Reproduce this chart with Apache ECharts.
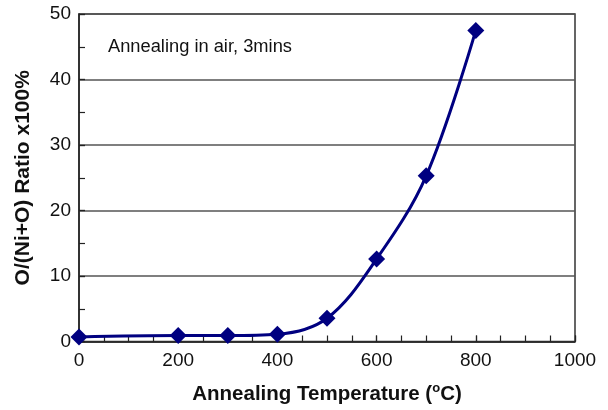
<!DOCTYPE html>
<html><head><meta charset="utf-8">
<script src="https://cdn.jsdelivr.net/npm/echarts@6/dist/echarts.min.js"></script>
<style>html,body{margin:0;padding:0;background:#fff}#c{width:608px;height:410px}</style>
</head><body><div id="c"></div>
<script>
const temperatures = [0, 200, 300, 400, 500, 600, 700, 800];
const ratios = [0.7, 0.9, 0.9, 1.1, 3.55, 12.6, 25.3, 47.5];
const xTicks = [0, 200, 400, 600, 800, 1000];
const yTicks = [0, 10, 20, 30, 40, 50];
const annotation = 'Annealing in air, 3mins';
const yTitle = 'O/(Ni+O) Ratio x100%';

const chart = echarts.init(document.getElementById('c'), null, {renderer: 'canvas'});
const font = 'Liberation Sans, Arial, sans-serif';
const tickStyle = {show: true, inside: true, length: 6, lineStyle: {color: '#222', width: 1.2}};
chart.setOption({
  animation: false,
  grid: {left: 79, right: 33, top: 14, bottom: 68, show: true, borderColor: '#333', borderWidth: 1.5},
  xAxis: [{
    type: 'value', min: 0, max: 1000, interval: 200,
    axisLine: {show: true, lineStyle: {color: '#222', width: 1.5}},
    axisTick: tickStyle,
    splitLine: {show: false},
    axisLabel: {color: '#111', fontSize: 19, fontFamily: font, margin: 10,
      formatter: v => xTicks.includes(v) ? String(v) : ''},
    name: '{t|Annealing Temperature (}{s|o}{t|C)}',
    nameLocation: 'middle', nameGap: 40,
    nameTextStyle: {rich: {
      t: {fontSize: 20.5, lineHeight: 26, fontWeight: 'bold', fontFamily: font, color: '#111'},
      s: {fontSize: 13, lineHeight: 11, fontWeight: 'bold', fontFamily: font, color: '#111', verticalAlign: 'top'}
    }}
  }, {
    type: 'value', min: 0, max: 1000, interval: 50, position: 'bottom',
    axisLine: {show: false}, axisTick: tickStyle,
    axisLabel: {show: false}, splitLine: {show: false}
  }],
  yAxis: [{
    type: 'value', min: 0, max: 50, interval: 10,
    axisLine: {show: true, lineStyle: {color: '#222', width: 1.5}},
    axisTick: tickStyle,
    splitLine: {show: true, lineStyle: {color: '#555', width: 1.5}},
    axisLabel: {color: '#111', fontSize: 19, fontFamily: font, margin: 8,
      formatter: v => yTicks.includes(v) ? String(v) : ''},
    name: yTitle, nameLocation: 'middle', nameGap: 45,
    nameTextStyle: {fontSize: 21, fontWeight: 'bold', fontFamily: font, color: '#111'}
  }, {
    type: 'value', min: 0, max: 50, interval: 5, position: 'left',
    axisLine: {show: false}, axisTick: tickStyle,
    axisLabel: {show: false}, splitLine: {show: false}
  }],
  graphic: [{
    type: 'text', left: 108, top: 38,
    style: {text: annotation, font: '18.3px Liberation Sans, Arial, sans-serif', fill: '#111'}
  }],
  series: [{
    type: 'line', xAxisIndex: 0, yAxisIndex: 0,
    data: temperatures.map((t, i) => [t, ratios[i]]),
    smooth: 0.35,
    symbol: 'diamond', symbolSize: 17,
    lineStyle: {color: '#000080', width: 3},
    itemStyle: {color: '#000080'}
  }]
});
</script></body></html>
